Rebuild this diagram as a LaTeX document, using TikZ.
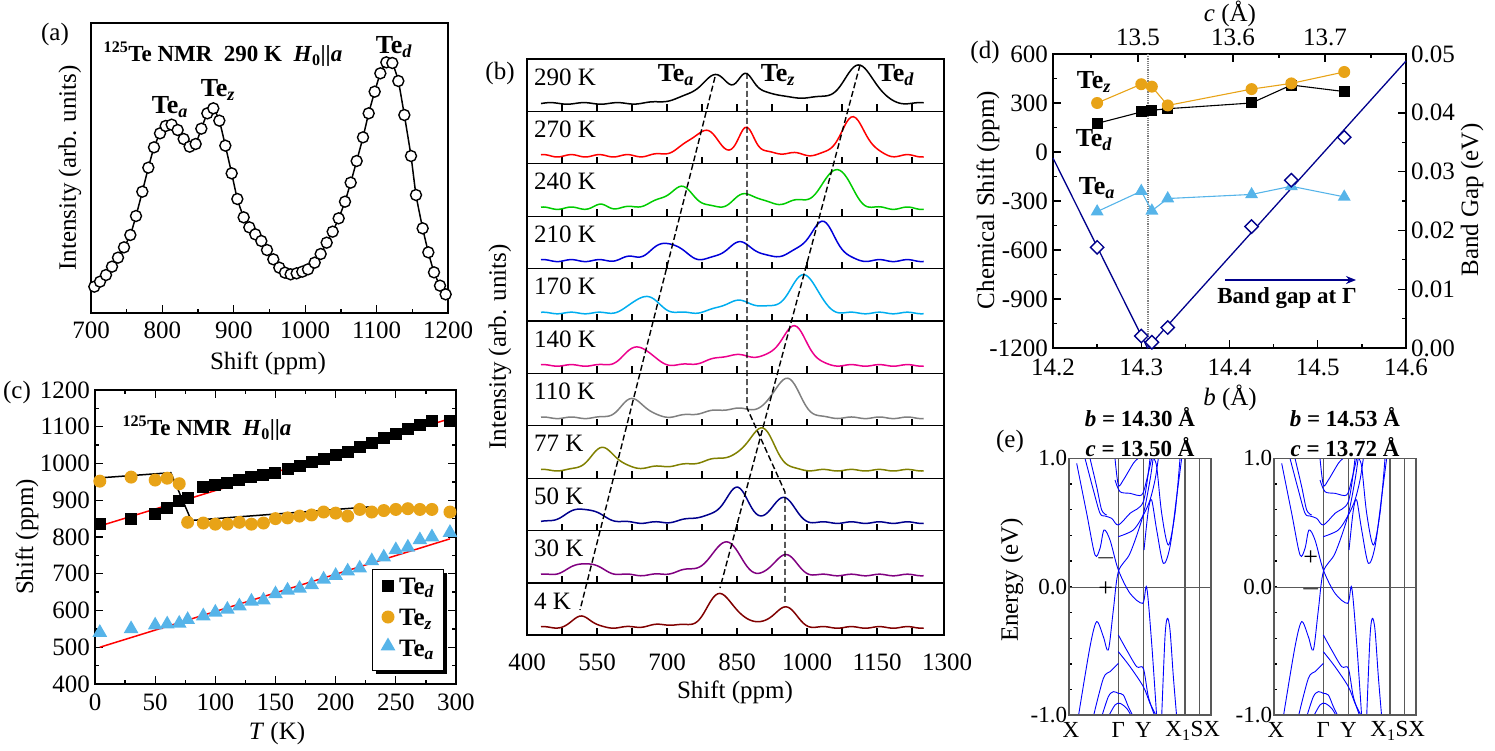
\documentclass[tikz,border=0pt]{standalone}
\usepackage{fontspec}
\setmainfont{Liberation Serif}
\usetikzlibrary{shapes.geometric,arrows.meta}
\newcommand\fs{\fontsize{25}{29}\selectfont}
\newcommand\fsb{\fontsize{26}{30}\selectfont}
\newcommand\fss{\fontsize{23}{27}\selectfont}
\newcommand\tei[1]{\textbf{Te\textsubscript{\textit{#1}}}}
\definecolor{orng}{RGB}{232,163,23}
\definecolor{lblue}{RGB}{86,180,233}
\definecolor{navy}{RGB}{0,0,140}
\definecolor{olive2}{RGB}{128,128,0}
\definecolor{purp}{RGB}{128,0,128}
\definecolor{dred}{RGB}{128,0,0}
\newcommand\spec[3]{%
 \begin{scope}[shift={(527,{59+52.4*(#1+1)-8})},xscale=0.4667,yscale=-1]
 \draw[#2,line width=1.5pt] plot[domain=430:1250,samples=170,smooth] ({\x-400},{#3});
 \end{scope}}
\begin{document}
\begin{tikzpicture}[x=1pt,y=-1pt,
  declare function={G(\t,\c,\a,\s)=\a*exp(-min(((\t-\c)/(1.25*\s))^2,40));},
  every node/.style={font=\fs,inner sep=1pt},
  ax/.style={line width=1.3pt},
  band/.style={blue,line width=0.9pt},
  sqm/.style={fill=black,minimum size=12pt,inner sep=0pt,draw=none,rectangle},
  cim/.style={fill=orng,minimum size=13pt,inner sep=0pt,circle},
  trm/.style={fill=lblue,regular polygon,regular polygon sides=3,minimum size=17pt,inner sep=0pt},
  dm/.style={draw=navy,line width=1.4pt,diamond,minimum size=14pt,inner sep=0pt,fill=white}]
\useasboundingbox (0,0) rectangle (1495,751);
% ================= (a)
\draw[ax] (91,23) rectangle (448,313);
\foreach \v in {700,800,...,1200}{\draw[ax] ({91+(\v-700)*0.714},313) -- ++(0,-8);
 \node (ta\v) at ({91+(\v-700)*0.714},330) {\v};}
\foreach \v in {750,850,...,1150}{\draw[ax] ({91+(\v-700)*0.714},313) -- ++(0,-4);}
\begin{scope}[scale=1/3]
\draw[line width=1.5pt] plot[smooth,tension=0.3] coordinates{(283,860)(300,845)(318,825)(336,800)(354,773)(372,742)(391,705)(408,648)(427,575)(445,503)(462,442)(480,400)(497,378)(515,374)(533,390)(551,417)(569,440)(587,432)(604,386)(622,340)(640,325)(658,362)(676,437)(695,520)(712,597)(731,652)(748,682)(766,703)(784,723)(801,750)(820,778)(838,803)(855,818)(872,823)(890,820)(907,815)(924,808)(944,788)(962,762)(980,728)(998,695)(1016,655)(1035,605)(1052,548)(1070,483)(1089,412)(1106,340)(1124,275)(1141,220)(1159,187)(1177,189)(1195,243)(1213,345)(1233,468)(1248,585)(1268,685)(1285,757)(1302,817)(1320,857)(1337,883)};
\foreach \p in {(283,860),(300,845),(318,825),(336,800),(354,773),(372,742),(391,705),(408,648),(427,575),(445,503),(462,442),(480,400),(497,378),(515,374),(533,390),(551,417),(569,440),(587,432),(604,386),(622,340),(640,325),(658,362),(676,437),(695,520),(712,597),(731,652),(748,682),(766,703),(784,723),(801,750),(820,778),(838,803),(855,818),(872,823),(890,820),(907,815),(924,808),(944,788),(962,762),(980,728),(998,695),(1016,655),(1035,605),(1052,548),(1070,483),(1089,412),(1106,340),(1124,275),(1141,220),(1159,187),(1177,189),(1195,243),(1213,345),(1233,468),(1248,585),(1268,685),(1285,757),(1302,817),(1320,857),(1337,883)}
  \node[circle,draw=black,fill=white,line width=1.4pt,minimum size=11pt,inner sep=0pt] at \p {};
\end{scope}
\node (la) at (55,34) {(a)};
\node[font=\fss] (tta) at (223,54) {\textbf{\textsuperscript{125}Te NMR\ \ 290 K\ \ \textit{H}\textsubscript{0}\textbar\textbar\textit{a}}};
\node[font=\fsb] (aa) at (170,107) {\tei{a}};
\node[font=\fsb] (az) at (218,90) {\tei{z}};
\node[font=\fsb] (ad) at (394,47) {\tei{d}};
\node[rotate=90] (ya) at (70,168) {Intensity (arb. units)};
\node (xa) at (268,363) {Shift (ppm)};
% ================= (c)
\draw[ax] (95,390) rectangle (456,684);
\foreach \t in {0,50,...,300}{\draw[ax] ({95+\t*1.2033},684) -- ++(0,-8); \draw[ax] ({95+\t*1.2033},390) -- ++(0,8);
  \node (tc\t) at ({95+\t*1.2033},702) {\t};}
\foreach \t in {25,75,...,275}{\draw[ax] ({95+\t*1.2033},684) -- ++(0,-4); \draw[ax] ({95+\t*1.2033},390) -- ++(0,4);}
\foreach \s in {400,500,...,1200}{\draw[ax] (95,{684-(\s-400)*0.3675}) -- ++(8,0); \draw[ax] (456,{684-(\s-400)*0.3675}) -- ++(-8,0);
  \node[anchor=east] (sc\s) at (91,{684-(\s-400)*0.3675}) {\s};}
\foreach \s in {450,550,...,1150}{\draw[ax] (95,{684-(\s-400)*0.3675}) -- ++(4,0); \draw[ax] (456,{684-(\s-400)*0.3675}) -- ++(-4,0);}
\begin{scope}[shift={(95,684)},xscale=1.2033,yscale=-0.3675]
\draw[red,line width=1.5pt] (4,430) -- (295,722);
\draw[red,line width=1.5pt] (4,100) -- (295,395);
\draw[black,line width=1.5pt] (0,560) -- (63,575) -- (80,445) -- (228,482);
\foreach \t/\s in {4/835,30/848,50/862,60/878,70/897,77/907,90/935,100/942,110/948,120/955,130/962,140/970,150/975,160/985,170/992,180/1005,190/1012,200/1022,210/1030,220/1045,230/1055,240/1070,250/1080,260/1095,270/1105,280/1115,295/1115}
  \node[sqm] at (\t,\s-400) {};
\foreach \t/\s in {4/952,30/963,50/955,60/960,70/945,77/840,90/838,100/835,110/835,120/840,130/835,140/838,150/850,160/852,170/857,180/860,190/868,200/865,210/857,220/875,230/868,240/872,250/875,260/877,270/875,280/875,295/868}
  \node[cim] at (\t,\s-400) {};
\foreach \t/\s in {4/540,30/550,50/560,60/563,70/565,77/575,90/585,100/595,110/603,120/612,130/625,140/628,150/645,160/655,170/660,180/670,190/685,200/695,210/707,220/715,230/735,240/745,250/765,260/772,270/792,280/800,295/812}
  \node[trm] at (\t,\s-400) {};
\end{scope}
\fill (376,573) rectangle (447,674);
\draw[line width=0.6pt,fill=white] (372,569) rectangle (443,670);
\node[sqm] (l1) at (388,586) {}; \node[anchor=west] (l1t) at (398,588) {\tei{d}};
\node[cim] (l2) at (388,617) {}; \node[anchor=west] (l2t) at (398,619) {\tei{z}};
\node[trm] (l3) at (388,646) {}; \node[anchor=west] (l3t) at (398,650) {\tei{a}};
\node (lc) at (17,392) {(c)};
\node[font=\fss] (ttc) at (207,428) {\textbf{\textsuperscript{125}Te NMR\ \ \textit{H}\textsubscript{0}\textbar\textbar\textit{a}}};
\node[rotate=90] (yc) at (27,537) {Shift (ppm)};
\node (xc) at (277,733) {\textit{T} (K)};
% ================= (b)
\draw[ax] (527,59) rectangle (944,635);
\foreach \r in {1,...,10}{\draw[ax] (527,{59+52.4*\r}) -- (944,{59+52.4*\r});}
\foreach \r in {1,...,11}{
 \foreach \v in {475,625,...,1225}{\draw[ax] ({527+(\v-400)*0.4667},{59+52.4*\r}) -- ++(0,-7);}
 \foreach \v in {550,700,...,1150}{\draw[ax] ({527+(\v-400)*0.4667},{59+52.4*\r}) -- ++(0,-7);}
}
\foreach \v in {400,550,...,1300}{\node (tb\v) at ({527+(\v-400)*0.4667},662) {\v};}
\spec{0}{black}{G(\x,806,24,32)+G(\x,867,23,18)+G(\x,905,10,30)+G(\x,760,7,50)+G(\x,1113,37,35)+G(\x,1000,6,70)+0.8*sin(5*\x)}
\spec{1}{red}{G(\x,785,20,30)+G(\x,871,27,18)+G(\x,1099,38,30)+G(\x,750,8,40)+G(\x,930,3,60)+1.2*sin(6*\x)}
\spec{2}{green!80!black}{G(\x,734,18,30)+G(\x,871,14,30)+G(\x,1066,36,30)+G(\x,690,6,40)+G(\x,1000,8,60)+G(\x,560,3,15)+1.2*sin(6*\x)}
\spec{3}{blue!85!black}{G(\x,700,18,35)+G(\x,857,18,35)+G(\x,1035,36,30)+G(\x,980,8,40)+G(\x,620,3,20)+1*sin(6*\x)}
\spec{4}{cyan}{G(\x,653,17,30)+G(\x,852,12,40)+G(\x,996,36,30)+G(\x,950,6,40)+0.8*sin(6*\x)}
\spec{5}{magenta}{G(\x,638,19,30)+G(\x,841,10,50)+G(\x,974,36,30)+G(\x,930,6,40)+0.8*sin(6*\x)}
\spec{6}{gray}{G(\x,627,19,28)+G(\x,850,9,80)+G(\x,957,37,30)+0.8*sin(6*\x)}
\spec{7}{olive2}{G(\x,563,22,30)+G(\x,841,12,60)+G(\x,904,36,30)+G(\x,720,4,80)+0.8*sin(6*\x)}
\spec{8}{navy}{G(\x,520,14,40)+G(\x,850,34,28)+G(\x,949,26,25)+G(\x,780,6,40)+0.8*sin(6*\x)}
\spec{9}{purp}{G(\x,525,12,35)+G(\x,828,33,30)+G(\x,953,21,25)+G(\x,760,6,40)+0.8*sin(6*\x)}
\spec{10}{dred}{G(\x,518,12,20)+G(\x,814,34,30)+G(\x,953,21,25)+G(\x,880,6,30)+G(\x,700,3,40)+0.8*sin(6*\x)}
\foreach \r/\tt in {0/290 K,1/270 K,2/240 K,3/210 K,4/170 K,5/140 K,6/110 K,7/77 K,8/50 K,9/30 K,10/4 K}
  \node[anchor=west] at (533,{59+52.4*\r+18}) {\tt};
\coordinate (ta1) at (715,77); \coordinate (ta2) at (580,610);
\coordinate (tz1) at (747,73); \coordinate (tz2) at (747,408); \coordinate (tz3) at (785,492); \coordinate (tz4) at (785,602);
\coordinate (td1) at (860,65); \coordinate (td2) at (720,588);
\draw[line width=1.4pt,dash pattern=on 6pt off 3pt] (ta1) -- (ta2);
\draw[line width=1.4pt,dash pattern=on 6pt off 3pt] (tz1) -- (tz2) -- (tz3) -- (tz4);
\draw[line width=1.4pt,dash pattern=on 6pt off 3pt] (td1) -- (td2);
\node[font=\fsb] (ba) at (676,75) {\tei{a}};
\node[font=\fsb] (bz) at (778,75) {\tei{z}};
\node[font=\fsb] (bd) at (896,75) {\tei{d}};
\node (lb) at (500,73) {(b)};
\node[rotate=90] (yb) at (500,347) {Intensity (arb. units)};
\node (xb) at (735,692) {Shift (ppm)};
% ================= (d)
\draw[ax] (1053,54) rectangle (1406,348);
\foreach \v in {14.2,14.3,14.4,14.5,14.6}{\draw[ax] ({1053+(\v-14.2)*882.5},348) -- ++(0,-8); \node (bd\v) at ({1053+(\v-14.2)*882.5},367) {\v};}
\foreach \v in {14.25,14.35,14.45,14.55}{\draw[ax] ({1053+(\v-14.2)*882.5},348) -- ++(0,-4);}
\foreach \v/\xx in {13.5/1138,13.6/1233,13.7/1325}{\draw[ax] (\xx,54) -- ++(0,8); \node (cd\v) at (\xx,37) {\v};}
\foreach \xx in {1091,1185,1279,1371}{\draw[ax] (\xx,54) -- ++(0,4);}
\foreach \s in {600,300,0,-300,-600,-900,-1200}{\draw[ax] (1053,{54+(600-\s)*0.1633}) -- ++(8,0); \node[anchor=east] at (1049,{54+(600-\s)*0.1633}) {\s};}
\foreach \s in {450,150,-150,-450,-750,-1050}{\draw[ax] (1053,{54+(600-\s)*0.1633}) -- ++(4,0);}
\foreach \g in {0.05,0.04,0.03,0.02,0.01,0.00}{\draw[ax] (1406,{54+(0.05-\g)*5880}) -- ++(-8,0); \node[anchor=west] at (1410,{54+(0.05-\g)*5880}) {\g};}
\foreach \g in {0.045,0.035,0.025,0.015,0.005}{\draw[ax] (1406,{54+(0.05-\g)*5880}) -- ++(-4,0);}
\begin{scope}[shift={(1053,54)},xscale=882.5,yscale=-0.1633]
\draw[gray,densely dotted,line width=1.2pt] (0.1076,0) -- (0.1076,-1800);
\draw[navy,line width=1.3pt] (0,-637) -- (0.107,-1800) -- (0.4,-43);
\draw[orng,line width=1.1pt] (0.05,-300) -- (0.10,-185) -- (0.112,-200) -- (0.13,-315) -- (0.225,-215) -- (0.27,-180) -- (0.33,-110);
\draw[black,line width=1.1pt] (0.05,-425) -- (0.10,-355) -- (0.112,-345) -- (0.13,-335) -- (0.225,-300) -- (0.27,-190) -- (0.33,-230);
\draw[lblue,line width=1.1pt] (0.05,-965) -- (0.10,-840) -- (0.112,-960) -- (0.13,-885) -- (0.225,-860) -- (0.27,-810) -- (0.33,-875);
\foreach \b/\s in {0.05/175,0.10/245,0.112/255,0.13/265,0.225/300,0.27/410,0.33/370} \node[sqm,minimum size=11pt] at (\b,\s-600) {};
\foreach \b/\s in {0.05/300,0.10/415,0.112/400,0.13/285,0.225/385,0.27/420,0.33/490} \node[cim,minimum size=12pt] at (\b,\s-600) {};
\foreach \b/\s in {0.05/-365,0.10/-240,0.112/-360,0.13/-285,0.225/-260,0.27/-210,0.33/-275} \node[trm,minimum size=15pt] at (\b,\s-600) {};
\foreach \b/\s in {0.05/-584,0.10/-1127,0.112/-1165,0.13/-1075,0.225/-457,0.27/-173,0.33/90} \node[dm] at (\b,\s-600) {};
\end{scope}
\node[font=\fsb] (dz) at (1094,82) {\tei{z}};
\node[font=\fsb] (dd) at (1094,140) {\tei{d}};
\node[font=\fsb] (da) at (1097,188) {\tei{a}};
\coordinate (arA) at (1225,280); \coordinate (arB) at (1356,280);
\draw[navy,line width=1.8pt,-{Stealth[length=10pt,width=8pt]}] (arA) -- (arB);
\node[font=\fss] (bgt) at (1287,298) {\textbf{Band gap at Γ}};
\node (ld) at (985,52) {(d)};
\node (ctop) at (1230,14) {\textit{c} (Å)};
\node (bbot) at (1230,398) {\textit{b} (Å)};
\node[rotate=90] (yd) at (988,200) {Chemical Shift (ppm)};
\node[rotate=90] (yd2) at (1472,200) {Band Gap (eV)};
% ================= (e)
\node (le) at (1010,441) {(e)};
\node[rotate=90] (ye) at (1012,580) {Energy (eV)};
\foreach \dx/\tb/\tc/\sa/\sb in {0/14.30/13.50/$-$/+,205/14.53/13.72/+/$-$}{
 \begin{scope}[shift={(990+\dx,430)},scale=1/3]
 \foreach \yy in {85,162,239,316,393,471,548,625,702,779,855}{\draw[line width=1.2pt] (237,\yy) -- ++(10,0);}
 \foreach \xx in {385,460,585,628}{\draw[gray!70!black,line width=1.2pt] (\xx,85) -- (\xx,855);}
 \draw[gray!70!black,line width=1pt] (237,471) -- (663,471);
 \begin{scope}
 \clip (237,85) rectangle (663,855);
 \draw[band] plot[smooth] coordinates{(260,100)(290,250)(315,375)(330,355)(342,300)(360,330)(385,420)(420,490)(458,520)(470,472)(485,640)(500,860)};
 \draw[band] plot[smooth] coordinates{(265,860)(300,650)(320,575)(340,620)(355,660)(370,540)(385,425)(420,370)(458,260)(480,150)(490,80)};
 \draw[band] plot[smooth] coordinates{(285,85)(310,180)(330,250)(345,258)(365,265)(385,285)(420,250)(460,215)(480,85)};
 \draw[band] plot[smooth] coordinates{(300,85)(320,170)(335,240)(350,255)};
 \draw[band] plot[smooth] coordinates{(375,85)(385,165)(400,150)(430,100)(445,85)};
 \draw[band] plot[smooth] coordinates{(375,150)(390,185)(420,190)(455,195)(470,150)(485,85)};
 \draw[band] plot[smooth] coordinates{(385,320)(430,300)(460,255)(480,210)(495,150)(505,85)};
 \draw[band] plot[smooth] coordinates{(462,360)(475,240)(485,210)(500,300)(520,400)(540,350)(560,200)(575,85)};
 \draw[band] plot[smooth] coordinates{(490,85)(500,110)(515,250)(535,345)(555,250)(570,85)};
 \draw[band] plot[smooth] coordinates{(385,615)(410,660)(440,710)(460,715)(475,800)(495,860)};
 \draw[band] plot[smooth] coordinates{(385,665)(420,710)(460,770)(480,820)(500,860)};
 \draw[band] plot[smooth] coordinates{(310,860)(340,745)(360,725)(375,710)(385,700)};
 \draw[band] plot[smooth] coordinates{(335,860)(355,800)(370,785)(385,790)(400,795)(415,830)(430,860)};
 \draw[band] plot[smooth] coordinates{(355,860)(375,825)(390,820)(410,835)(425,860)};
 \draw[band] plot[smooth] coordinates{(515,860)(525,620)(532,565)(540,600)(550,740)(560,860)};
 \end{scope}
 \draw[gray!70!black,line width=1.2pt] (237,85) rectangle (663,855);
 \node[font=\fsb] at (347,385) {\sa};
 \node[font=\fsb] at (347,478) {\sb};
 \node[anchor=east,font=\fss] at (235,85) {1.0};
 \node[anchor=east,font=\fss] at (235,471) {0.0};
 \node[anchor=east,font=\fss] at (235,855) {-1.0};
 \node[font=\fss] at (243,900) {X};
 \node[font=\fss] at (385,900) {Γ};
 \node[font=\fss] at (460,900) {Y};
 \node[font=\fss] at (608,903) {X\textsubscript{1}SX};
 \node[font=\fss] at (450,-40) {\textbf{\textit{b} = \tb\ Å}};
 \node[font=\fss] at (450,50) {\textbf{\textit{c} = \tc\ Å}};
 \end{scope}}
\end{tikzpicture}
\end{document}
